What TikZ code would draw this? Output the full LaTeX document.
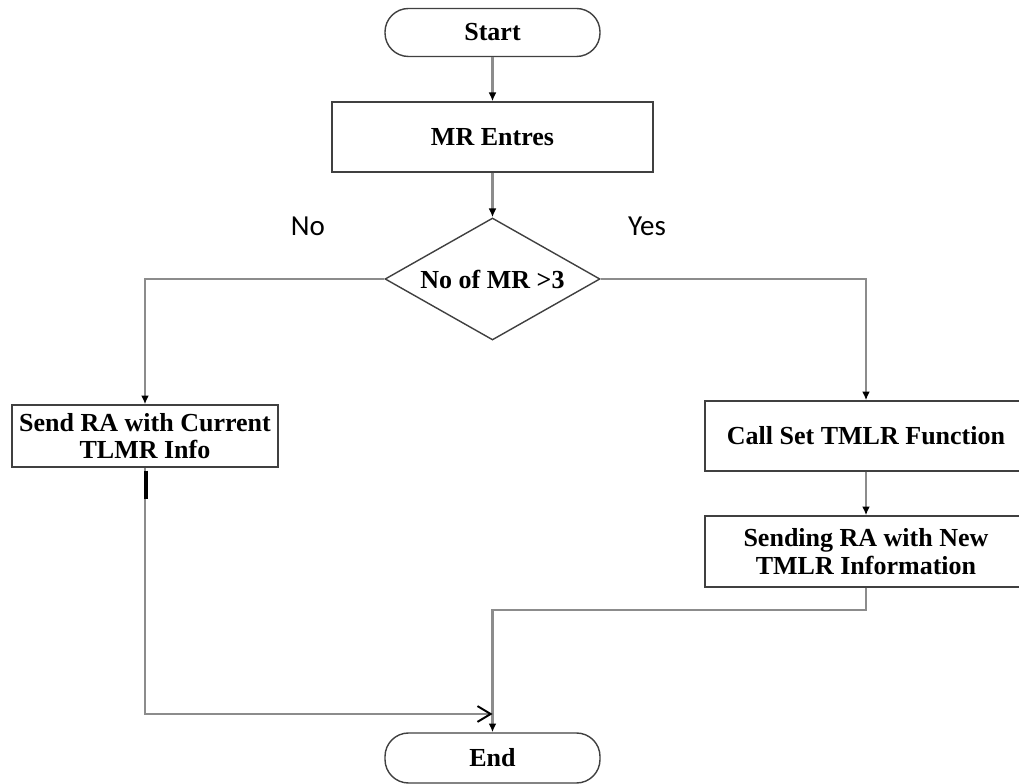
\documentclass[tikz,border=0pt]{standalone}
\usepackage{fontspec}
\setmainfont{Liberation Serif}
\newfontfamily\lblfont{Carlito}
\usepackage{tikz}
\usetikzlibrary{arrows.meta}
\usetikzlibrary{shapes.geometric}

\begin{document}
\begin{tikzpicture}[>/.tip={Latex[length=5pt,width=4.5pt,color=black]},
	every node/.style={font=\fontsize{14.8}{15.6}\selectfont\bfseries, align=center},
	terminal/.style={draw=black!75, line width=0.8pt, rectangle, rounded corners=0.47cm, minimum width=4.3cm, minimum height=0.96cm},
	process/.style={draw=black!75, line width=0.8pt, rectangle, inner sep=0pt},
	decision/.style={draw=black!75, line width=0.8pt, diamond, inner sep=0pt, aspect=1.76, minimum width=4.3cm, minimum height=2.44cm},
	flow/.style={draw=black!45, line width=1.3pt},
	answer/.style={font=\lblfont\fontsize{16.5}{18}\selectfont}]
	\clip (0,0) rectangle (20.38,15.68);
	\draw (9.85,15.03) node(start) [terminal] {Start};
	\draw (9.85,12.94) node(entres) [process,minimum width=6.42cm,minimum height=1.4cm] {MR Entres};
	\draw (9.85,10.1) node(check) [decision] {No of MR >3};
	\draw (6.16,11.16) node(no) [answer] {No};
	\draw (12.94,11.16) node(yes) [answer] {Yes};
	\draw (2.9,6.96) node(current) [process,minimum width=5.32cm,minimum height=1.24cm] {Send RA with Current\\TLMR Info};
	\draw (17.32,6.96) node(settmlr) [process,minimum width=6.44cm,minimum height=1.4cm] {Call Set TMLR Function};
	\draw (17.32,4.65) node(newinfo) [process,minimum width=6.44cm,minimum height=1.42cm] {Sending RA with New\\TMLR Information};
	\draw (9.85,0.52) node(end) [terminal,minimum height=1.0cm] {End};
	\coordinate (merge) at (17.32,3.48);
	\coordinate (back) at (9.85,1.4);
	\draw[flow,->] (start) -- (entres);
	\draw[flow,->] (entres) -- (check);
	\draw[flow,->] (check.west) -| (current.north);
	\draw[flow,->] (check.east) -| (settmlr.north);
	\draw[flow,->] (settmlr) -- (newinfo);
	\draw[flow,->] (newinfo.south) -- (merge) -| (end.north);
	\draw[flow,-{Straight Barb[length=7.5pt,width=9pt,color=black,line width=1.1pt]}] (current.south) |- (back);
	\draw[black, line width=1.8pt] (current.south) ++(0.02,-0.06) -- ++(0,-0.56);
\end{tikzpicture}
\end{document}
